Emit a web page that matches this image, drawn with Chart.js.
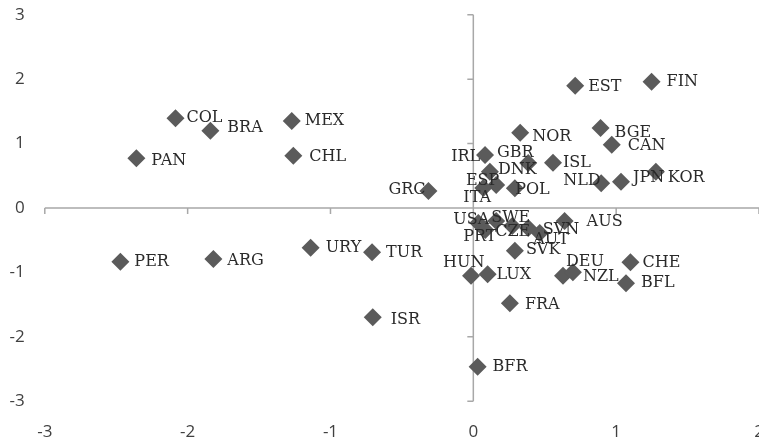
<!DOCTYPE html>
<html><head><meta charset="utf-8">
<script src="https://cdn.jsdelivr.net/npm/chart.js@4"></script>
<style>
html,body{margin:0;padding:0;background:#fff;overflow:hidden;width:759px;height:447px;}
canvas{display:block;}
</style></head>
<body><canvas id="c" width="768" height="447" style="width:768px;height:447px"></canvas>
<script>
const countries = ['COL','BRA','PAN','MEX','CHL','GRC','PER','ARG','URY','TUR','ISR',
  'EST','FIN','NOR','BGE','CAN','ISL','NLD','JPN','KOR',
  'GBR','IRL','DNK','POL','ESP','ITA',
  'AUS','SVK','SVN','AUT','USA','SWE','PRT','CZE',
  'HUN','LUX','DEU','NZL','CHE','BFL','FRA','BFR'];
const xValues = [-2.085,-1.841,-2.359,-1.271,-1.260,-0.314,-2.471,-1.820,-1.139,-0.709,-0.704,
  0.713,1.248,0.328,0.891,0.969,0.558,0.895,1.034,1.278,
  0.082,0.384,0.116,0.160,0.291,0.070,
  0.639,0.291,0.465,0.384,0.035,0.160,0.084,0.272,
  -0.016,0.100,0.628,0.697,1.100,1.069,0.256,0.030];
const yValues = [1.393,1.200,0.772,1.351,0.812,0.264,-0.834,-0.792,-0.616,-0.688,-1.697,
  1.899,1.961,1.169,1.242,0.983,0.703,0.384,0.408,0.564,
  0.823,0.699,0.564,0.357,0.306,0.311,
  -0.202,-0.663,-0.388,-0.311,-0.233,-0.202,-0.342,-0.280,
  -1.051,-1.030,-1.051,-0.998,-0.843,-1.169,-1.480,-2.464];
const xTickValues = [-3,-2,-1,0,1,2];
const yTickValues = [-3,-2,-1,0,1,2,3];

// label placement relative to its marker (text left edge dx, vertical middle dy), in px
const labelOffsets = {
  COL:[11,0], BRA:[17,-3], PAN:[15,3], MEX:[13,0], CHL:[16,1], GRC:[-40,-1],
  PER:[14,0], ARG:[14,2], URY:[15,0], TUR:[14,1], ISR:[18,3],
  EST:[13,1], FIN:[15,0], NOR:[12,4], BGE:[14,5], CAN:[16,1], ISL:[10,0],
  NLD:[-38,-2], JPN:[12,-4], KOR:[12,6],
  GBR:[12,-2], IRL:[-77,-6], DNK:[8,-2], POL:[19,5], ESP:[-49,-7], ITA:[-20,10],
  AUS:[22,1], SVK:[11,-1], SVN:[3,-3], AUT:[5,12], USA:[-25,-3], SWE:[-5,-3],
  PRT:[-22,7], CZE:[-17,6],
  HUN:[-28,-13], LUX:[9,1], DEU:[3,-14], NZL:[10,5], CHE:[12,1], BFL:[15,0],
  FRA:[15,2], BFR:[15,0]
};

const points = xValues.map((v,i)=>({x:v, y:yValues[i]}));

const crossAxes = {
  id:'crossAxes',
  beforeDatasetsDraw(chart){
    const {ctx, scales:{x,y}} = chart;
    const x0 = x.getPixelForValue(0), y0 = y.getPixelForValue(0);
    ctx.save();
    ctx.strokeStyle = '#a8a8a8';
    ctx.lineWidth = 1.5;
    ctx.beginPath();
    ctx.moveTo(x.getPixelForValue(x.min), y0);
    ctx.lineTo(x.getPixelForValue(x.max), y0);
    ctx.moveTo(x0, y.getPixelForValue(y.max));
    ctx.lineTo(x0, y.getPixelForValue(y.min));
    xTickValues.forEach(v=>{const px=x.getPixelForValue(v); ctx.moveTo(px,y0); ctx.lineTo(px,y0+6);});
    yTickValues.forEach(v=>{const py=y.getPixelForValue(v); ctx.moveTo(x0-6,py); ctx.lineTo(x0,py);});
    ctx.stroke();
    ctx.restore();
  }
};

const pointLabels = {
  id:'pointLabels',
  afterDatasetsDraw(chart){
    const {ctx} = chart;
    const meta = chart.getDatasetMeta(0);
    ctx.save();
    ctx.font = '16px "DejaVu Serif"';
    ctx.fillStyle = '#2a2a2a';
    ctx.textAlign = 'left';
    ctx.textBaseline = 'middle';
    meta.data.forEach((el,i)=>{
      const name = countries[i];
      const off = labelOffsets[name] || [13,0];
      ctx.fillText(name, el.x+off[0], el.y+off[1]);
    });
    ctx.restore();
  }
};

const tickFont = {family:'"Open Sans"', size:17};

new Chart(document.getElementById('c'), {
  type:'scatter',
  data:{datasets:[{
    data:points,
    pointStyle:'rectRot',
    pointRadius:9,
    pointHoverRadius:9,
    backgroundColor:'#5b5b5b',
    borderColor:'#5b5b5b',
    borderWidth:0
  }]},
  options:{
    responsive:false,
    animation:false,
    events:[],
    layout:{padding:{top:14.8,left:0,right:0,bottom:0}},
    plugins:{legend:{display:false},tooltip:{enabled:false}},
    scales:{
      x:{
        type:'linear', min:-3, max:2,
        grid:{display:false, drawTicks:false},
        border:{display:false},
        afterBuildTicks(s){ s.ticks = xTickValues.map(v=>({value:v})); },
        afterFit(s){ s.height = 45.8; s.paddingLeft = 0; s.paddingRight = 0; s.paddingTop = 0; s.paddingBottom = 0; },
        ticks:{font:tickFont, color:'#404040', padding:21, maxRotation:0}
      },
      y:{
        type:'linear', min:-3, max:3,
        grid:{display:false, drawTicks:false},
        border:{display:false},
        afterBuildTicks(s){ s.ticks = yTickValues.map(v=>({value:v})); },
        afterFit(s){ s.width = 44.8; s.paddingTop = 0; s.paddingBottom = 0; s.paddingLeft = 0; s.paddingRight = 0; },
        ticks:{font:tickFont, color:'#404040', padding:20}
      }
    }
  },
  plugins:[crossAxes, pointLabels]
});
</script>
</body></html>
